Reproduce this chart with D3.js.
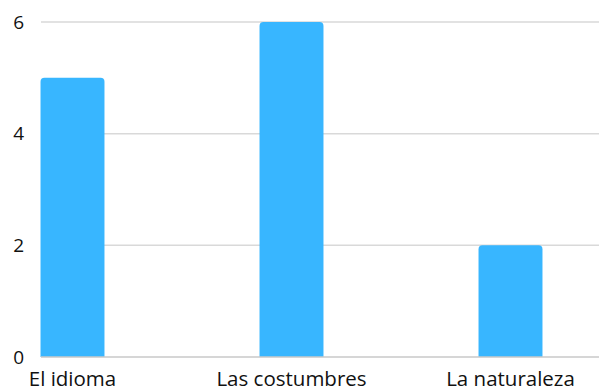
<!DOCTYPE html>
<html>
<head>
<meta charset="utf-8">
<script src="https://cdn.jsdelivr.net/npm/d3@7"></script>
<style>
  body { margin: 0; background: #fff; }
  text { font-family: "Open Sans", "Noto Sans", sans-serif; }
</style>
</head>
<body>
<script>
var categories = ["El idioma", "Las costumbres", "La naturaleza"];
var values = [5, 6, 2];
var yTicks = [0, 2, 4, 6];

var width = 599, height = 392;
var plotLeft = 41, plotRight = 599, plotTop = 22, plotBottom = 357;

var svg = d3.select("body").append("svg")
    .attr("width", width).attr("height", height);

var x = d3.scaleBand()
    .domain(categories)
    .range([-37, 620])
    .paddingInner(0.708)
    .paddingOuter(0.354);

var y = d3.scaleLinear()
    .domain([0, 6])
    .range([plotBottom, plotTop]);

// grid
svg.append("g").selectAll("line")
    .data(yTicks.filter(function(d){ return d > 0; }))
    .enter().append("line")
    .attr("x1", plotLeft).attr("x2", plotRight)
    .attr("y1", function(d){ return y(d); })
    .attr("y2", function(d){ return y(d); })
    .attr("stroke", "#d9d9d9").attr("stroke-width", 1.5);

// bars with rounded tops
var r = 4;
svg.append("g").selectAll("path")
    .data(values)
    .enter().append("path")
    .attr("fill", "#38b6ff")
    .attr("d", function(d, i){
      var x0 = x(categories[i]), w = x.bandwidth();
      var y0 = y(d), y1 = y(0);
      return "M" + x0 + "," + y1 +
        "V" + (y0 + r) +
        "Q" + x0 + "," + y0 + " " + (x0 + r) + "," + y0 +
        "H" + (x0 + w - r) +
        "Q" + (x0 + w) + "," + y0 + " " + (x0 + w) + "," + (y0 + r) +
        "V" + y1 + "Z";
    });

// baseline
svg.append("line")
    .attr("x1", plotLeft).attr("x2", plotRight)
    .attr("y1", y(0)).attr("y2", y(0))
    .attr("stroke", "#c8c8c8").attr("stroke-width", 1.5);

// y tick labels
svg.append("g").selectAll("text")
    .data(yTicks)
    .enter().append("text")
    .attr("x", 24)
    .attr("y", function(d){ return y(d); })
    .attr("dy", "0.35em")
    .attr("text-anchor", "end")
    .attr("font-size", 19)
    .attr("fill", "#111")
    .text(function(d){ return d; });

// x labels
svg.append("g").selectAll("text")
    .data(categories)
    .enter().append("text")
    .attr("x", function(d){ return x(d) + x.bandwidth() / 2; })
    .attr("y", 386)
    .attr("text-anchor", "middle")
    .attr("font-size", 20.5)
    .attr("fill", "#111")
    .text(function(d){ return d; });
</script>
</body>
</html>
